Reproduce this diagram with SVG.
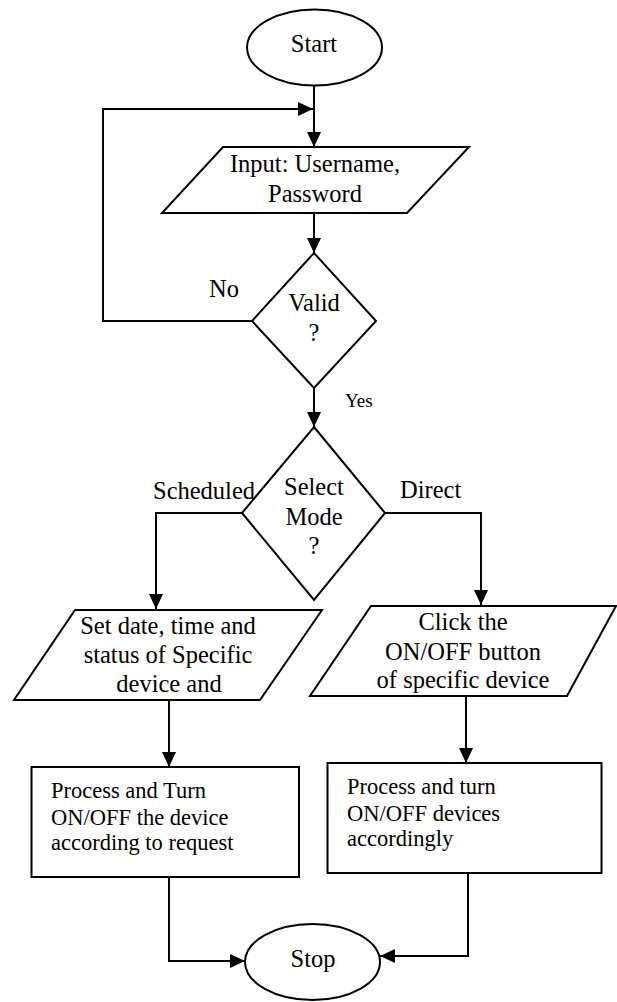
<svg xmlns="http://www.w3.org/2000/svg" width="617" height="1002" viewBox="0 0 617 1002">
<style>
.s{fill:#fff;stroke:#000;stroke-width:2}
.c{fill:none;stroke:#000;stroke-width:2}
text{font-family:"Liberation Serif","Times New Roman",serif;font-size:24.5px;fill:#000}
.m{text-anchor:middle}
.b{font-size:22.5px}
.y{font-size:19px}
</style>
<defs>
<marker id="ah" markerUnits="userSpaceOnUse" markerWidth="15" markerHeight="14" refX="15" refY="7" orient="auto">
<path d="M0,0 L15,7 L0,14 z" fill="#000"/>
</marker>
</defs>
<g id="connectors">
<line class="c" x1="314" y1="86" x2="314" y2="147" marker-end="url(#ah)"/>
<polyline class="c" points="252,321 103,321 103,109 313,109" marker-end="url(#ah)"/>
<line class="c" x1="314" y1="213" x2="314" y2="253" marker-end="url(#ah)"/>
<line class="c" x1="314" y1="388" x2="314" y2="427" marker-end="url(#ah)"/>
<polyline class="c" points="242,513 156,513 156,609" marker-end="url(#ah)"/>
<polyline class="c" points="385,513 481,513 481,605" marker-end="url(#ah)"/>
<line class="c" x1="169" y1="700" x2="169" y2="767" marker-end="url(#ah)"/>
<line class="c" x1="466" y1="696" x2="466" y2="763" marker-end="url(#ah)"/>
<polyline class="c" points="169,877 169,961 245,961" marker-end="url(#ah)"/>
<polyline class="c" points="468,873 468,956 380,956" marker-end="url(#ah)"/>
<text x="209" y="297">No</text>
<text class="y" x="345" y="407">Yes</text>
<text x="153" y="499">Scheduled</text>
<text x="400" y="498">Direct</text>
</g>
<g id="start">
<ellipse class="s" cx="314.5" cy="47.5" rx="67.5" ry="38"/>
<text class="m" x="314" y="52">Start</text>
</g>
<g id="input">
<polygon class="s" points="223,147 469,147 407,213 162,213"/>
<text class="m" x="315" y="172">Input: Username,</text>
<text class="m" x="315" y="202">Password</text>
</g>
<g id="valid">
<polygon class="s" points="314,253 376,321 314,388 252,321"/>
<text class="m" x="314" y="311">Valid</text>
<text class="m" x="314" y="341">?</text>
</g>
<g id="mode">
<polygon class="s" points="314,427 385,513 314,600 242,513"/>
<text class="m" x="314" y="495">Select</text>
<text class="m" x="314" y="525">Mode</text>
<text class="m" x="314" y="554">?</text>
</g>
<g id="schedule">
<polygon class="s" points="75,610 322,610 260,700 14,700"/>
<text class="m" x="168" y="634">Set date, time and</text>
<text class="m" x="168" y="663">status of Specific</text>
<text class="m" x="169" y="692">device and</text>
</g>
<g id="direct">
<polygon class="s" points="371,606 616,606 567,696 310,696"/>
<text class="m" x="463" y="630">Click the</text>
<text class="m" x="463" y="660">ON/OFF button</text>
<text class="m" x="463" y="688">of specific device</text>
</g>
<g id="process-scheduled">
<rect class="s" x="31.5" y="767" width="267.5" height="110"/>
<text class="b" x="51" y="798">Process and Turn</text>
<text class="b" x="51" y="825">ON/OFF the device</text>
<text class="b" x="51" y="850">according to request</text>
</g>
<g id="process-direct">
<rect class="s" x="327.5" y="763" width="274" height="110"/>
<text class="b" x="347" y="794">Process and turn</text>
<text class="b" x="347" y="821">ON/OFF devices</text>
<text class="b" x="347" y="846">accordingly</text>
</g>
<g id="stop">
<ellipse class="s" cx="312.5" cy="962" rx="67.5" ry="38"/>
<text class="m" x="313" y="967">Stop</text>
</g>
</svg>
